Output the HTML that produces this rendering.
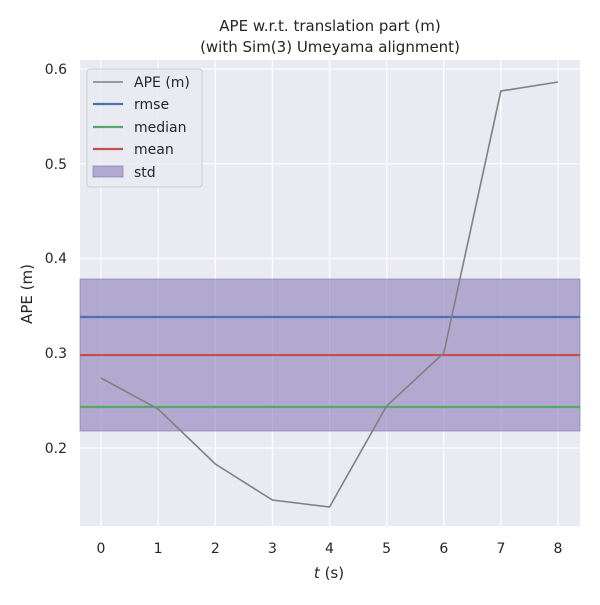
<!DOCTYPE html>
<html><head><style>body{margin:0;background:#fff}</style></head><body>
<svg width="600" height="600" xmlns="http://www.w3.org/2000/svg" font-family="'DejaVu Sans','Liberation Sans',sans-serif">
<rect x="80" y="60" width="500" height="466" fill="#eaeaf2"/>
<g stroke="#fff" stroke-width="1.2">
<line x1="101" y1="60" x2="101" y2="526"/><line x1="158.1" y1="60" x2="158.1" y2="526"/><line x1="215.3" y1="60" x2="215.3" y2="526"/><line x1="272.4" y1="60" x2="272.4" y2="526"/><line x1="329.5" y1="60" x2="329.5" y2="526"/><line x1="386.6" y1="60" x2="386.6" y2="526"/><line x1="443.8" y1="60" x2="443.8" y2="526"/><line x1="500.9" y1="60" x2="500.9" y2="526"/><line x1="558" y1="60" x2="558" y2="526"/>
<line x1="80" y1="69" x2="580" y2="69"/><line x1="80" y1="163.8" x2="580" y2="163.8"/><line x1="80" y1="258.5" x2="580" y2="258.5"/><line x1="80" y1="353.3" x2="580" y2="353.3"/><line x1="80" y1="448" x2="580" y2="448"/>
</g>
<rect x="80" y="279" width="500" height="152" fill="#8172b3" fill-opacity="0.55" stroke="#8172b3" stroke-opacity="0.6"/>
<line x1="80" y1="317" x2="580" y2="317" stroke="#4c72b0" stroke-width="2.2"/>
<line x1="80" y1="407" x2="580" y2="407" stroke="#55a868" stroke-width="2.2"/>
<line x1="80" y1="355" x2="580" y2="355" stroke="#c44e52" stroke-width="2.2"/>
<polyline fill="none" stroke="#808080" stroke-width="1.6" points="101,378 158.1,409 215.3,464 272.4,500 329.5,507 386.6,406 443.8,353 500.9,91 558,82"/>
<g font-size="14" fill="#262626" text-anchor="middle">
<text x="101" y="553">0</text><text x="158.1" y="553">1</text><text x="215.3" y="553">2</text><text x="272.4" y="553">3</text><text x="329.5" y="553">4</text><text x="386.6" y="553">5</text><text x="443.8" y="553">6</text><text x="500.9" y="553">7</text><text x="558" y="553">8</text>
<text x="329" y="578" font-size="15"><tspan font-style="italic">t</tspan> (s)</text>
<text x="330" y="31" font-size="15">APE w.r.t. translation part (m)</text>
<text x="330" y="52" font-size="15">(with Sim(3) Umeyama alignment)</text>
<text transform="translate(32,294) rotate(-90)" font-size="15">APE (m)</text>
</g>
<g font-size="14" fill="#262626" text-anchor="end">
<text x="67" y="74">0.6</text><text x="67" y="169">0.5</text><text x="67" y="263">0.4</text><text x="67" y="358">0.3</text><text x="67" y="453">0.2</text>
</g>
<rect x="87" y="69" width="115" height="118" rx="3" fill="#eaeaf2" fill-opacity="0.8" stroke="#ccc"/>
<g font-size="14" fill="#262626">
<line x1="93" y1="82" x2="123" y2="82" stroke="#808080" stroke-width="1.6"/><text x="134" y="87">APE (m)</text>
<line x1="93" y1="104" x2="123" y2="104" stroke="#4c72b0" stroke-width="2.2"/><text x="134" y="109">rmse</text>
<line x1="93" y1="127" x2="123" y2="127" stroke="#55a868" stroke-width="2.2"/><text x="134" y="132">median</text>
<line x1="93" y1="149" x2="123" y2="149" stroke="#c44e52" stroke-width="2.2"/><text x="134" y="154">mean</text>
<rect x="93" y="166" width="30" height="11" fill="#8172b3" fill-opacity="0.55" stroke="#8172b3" stroke-opacity="0.6"/><text x="134" y="177">std</text>
</g>
</svg>
</body></html>
